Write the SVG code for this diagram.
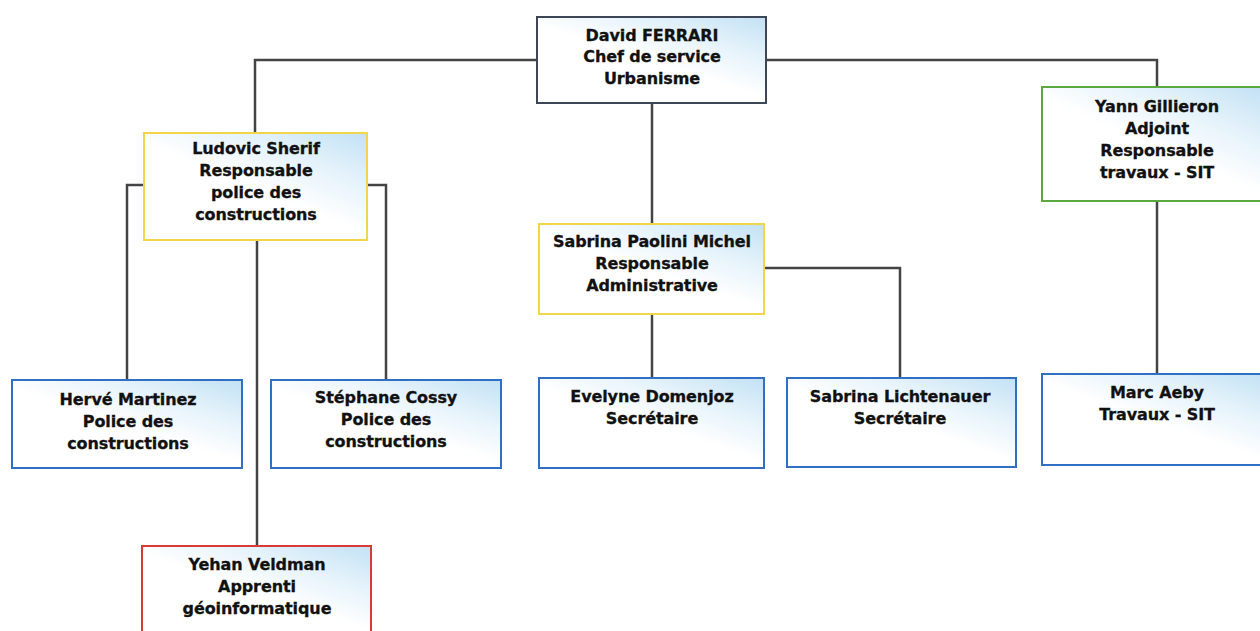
<svg xmlns="http://www.w3.org/2000/svg" width="1260" height="631" viewBox="0 0 1260 631">
<defs>
<linearGradient id="g" x1="1" y1="0" x2="0.45" y2="0.65">
<stop offset="0" stop-color="#c2e1f4"/>
<stop offset="0.45" stop-color="#e6f3fb"/>
<stop offset="0.85" stop-color="#ffffff"/>
</linearGradient>
<style>
.b{fill:url(#g);stroke-width:2}
.k{stroke:#3c4656}
.y{stroke:#f2d64a}
.gr{stroke:#5aa83e}
.bl{stroke:#2f6fc4}
.r{stroke:#d83a3a}
text{font-family:"DejaVu Sans","Liberation Sans",sans-serif;font-weight:bold;font-size:16px;fill:#111;stroke:#111;stroke-width:0.3;text-anchor:middle;letter-spacing:-0.1px}
#c path{fill:none;stroke:#444;stroke-width:2.5}
</style>
</defs>
<rect width="1260" height="631" fill="#fff"/>
<g id="c">
<path d="M537 60H255V133"/>
<path d="M766 60H1157V87"/>
<path d="M652 103V224"/>
<path d="M144 185H127V380"/>
<path d="M367 185H386V380"/>
<path d="M257 240V546"/>
<path d="M652 314V378"/>
<path d="M764 268H900V378"/>
<path d="M1157 201V374"/>
</g>
<g id="ferrari"><rect class="b k" x="537" y="17" width="229" height="86"/>
<text x="652" y="41">David FERRARI</text><text x="652" y="62">Chef de service</text><text x="652" y="84">Urbanisme</text></g>
<g id="sherif"><rect class="b y" x="144" y="133" width="223" height="107"/>
<text x="256" y="154">Ludovic Sherif</text><text x="256" y="176">Responsable</text><text x="256" y="198">police des</text><text x="256" y="220">constructions</text></g>
<g id="gillieron"><rect class="b gr" x="1042" y="87" width="222" height="114"/>
<text x="1157" y="112">Yann Gillieron</text><text x="1157" y="134">Adjoint</text><text x="1157" y="156">Responsable</text><text x="1157" y="178">travaux - SIT</text></g>
<g id="paolini"><rect class="b y" x="539" y="224" width="225" height="90"/>
<text x="652" y="247">Sabrina Paolini Michel</text><text x="652" y="269">Responsable</text><text x="652" y="291">Administrative</text></g>
<g id="martinez"><rect class="b bl" x="12" y="380" width="230" height="88"/>
<text x="128" y="405">Hervé Martinez</text><text x="128" y="427">Police des</text><text x="128" y="449">constructions</text></g>
<g id="cossy"><rect class="b bl" x="271" y="380" width="230" height="88"/>
<text x="386" y="403">Stéphane Cossy</text><text x="386" y="425">Police des</text><text x="386" y="447">constructions</text></g>
<g id="domenjoz"><rect class="b bl" x="539" y="378" width="225" height="90"/>
<text x="652" y="402">Evelyne Domenjoz</text><text x="652" y="424">Secrétaire</text></g>
<g id="lichtenauer"><rect class="b bl" x="787" y="378" width="229" height="89"/>
<text x="900" y="402">Sabrina Lichtenauer</text><text x="900" y="424">Secrétaire</text></g>
<g id="aeby"><rect class="b bl" x="1042" y="374" width="222" height="91"/>
<text x="1157" y="398">Marc Aeby</text><text x="1157" y="420">Travaux - SIT</text></g>
<g id="veldman"><rect class="b r" x="142" y="546" width="229" height="90"/>
<text x="257" y="570">Yehan Veldman</text><text x="257" y="592">Apprenti</text><text x="257" y="614">géoinformatique</text></g>
</svg>
